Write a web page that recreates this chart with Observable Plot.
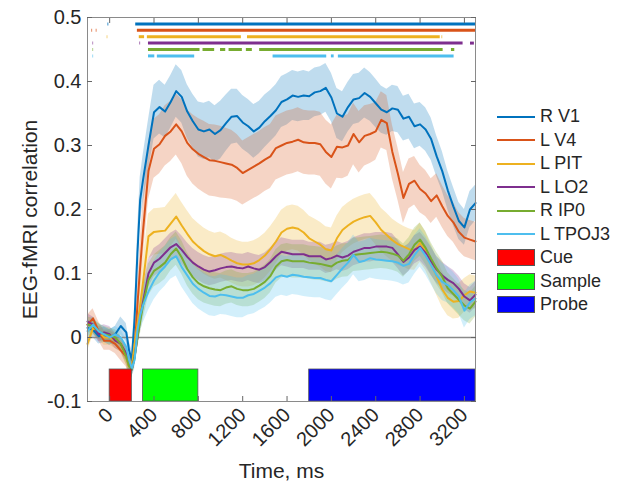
<!DOCTYPE html>
<html><head><meta charset="utf-8">
<script src="https://cdn.jsdelivr.net/npm/d3@7"></script>
<script src="https://cdn.jsdelivr.net/npm/@observablehq/plot@0.6"></script>
<style>
body{margin:0;background:#fff;font-family:"Liberation Sans",Arial,sans-serif;}
#wrap{position:relative;width:624px;height:491px;}
#legend{position:absolute;left:497px;top:105px;font-size:18px;color:#262626;}
.item{display:flex;align-items:center;height:23.5px;}
.sw-line{width:38px;height:0;border-top:2.5px solid;margin-right:5px;}
.sw-rect{width:38px;height:17px;box-sizing:border-box;border:1px solid #555;margin-right:5px;}
</style></head><body><div id="wrap"></div>
<script>
const time = [-200,-150,-100,-50,0,50,100,150,175,200,225,250,275,300,350,400,450,500,550,600,650,700,750,800,850,900,950,1000,1050,1100,1150,1200,1250,1300,1350,1400,1450,1500,1550,1600,1650,1700,1750,1800,1850,1900,1950,2000,2050,2100,2150,2200,2250,2300,2350,2400,2450,2500,2550,2600,2650,2700,2750,2800,2850,2900,2950,3000,3050,3100,3150,3200,3250,3300];

const seriesNames = ["R V1","L V4","L PIT","L LO2","R IP0","L TPOJ3"];
const seriesColors = ["#0072BD","#D95319","#EDB120","#7E2F8E","#77AC30","#4DBEEE"];

const rV1 = [.015,.012,.002,.004,0,.005,.018,.008,-.02,-.035,.03,.13,.215,
.245,.30,.352,.36,.353,.368,.385,.376,.353,.338,.325,.322,.325,.318,.324,.335,.345,.346,.336,.33,.322,.328,.338,.346,.355,.368,.372,.378,.376,.378,.377,.383,.385,.39,.375,.35,.345,.36,.372,.374,.382,.376,.366,.356,.352,.358,.356,.342,.345,.33,.333,.325,.31,.283,.26,.23,.205,.182,.172,.2,.21];
const lV4 = [.02,.03,.01,-.005,-.005,-.01,-.02,-.03,-.045,-.045,-.02,.05,.11,
.165,.26,.295,.302,.315,.322,.333,.322,.304,.294,.287,.282,.277,.276,.274,.272,.27,.265,.257,.262,.267,.272,.278,.283,.296,.3,.304,.306,.309,.305,.304,.304,.302,.29,.282,.298,.297,.3,.318,.305,.315,.318,.322,.34,.335,.29,.256,.218,.24,.245,.232,.225,.213,.222,.205,.19,.18,.165,.156,.153,.15];
const lPIT = [-.01,.015,.01,0,0,-.005,-.01,-.03,-.045,-.045,-.01,.02,.05,
.085,.158,.165,.166,.167,.178,.189,.175,.162,.15,.142,.135,.13,.127,.129,.125,.12,.116,.114,.114,.116,.121,.128,.138,.15,.164,.17,.172,.17,.164,.155,.15,.145,.138,.136,.155,.168,.175,.181,.185,.188,.19,.18,.168,.16,.152,.146,.142,.138,.136,.148,.135,.115,.095,.075,.062,.056,.057,.066,.072,.07];
const lLO2 = [.025,.02,.005,.008,.005,-.005,-.01,-.025,-.04,-.05,-.03,0,.03,
.055,.1,.117,.123,.132,.141,.146,.137,.126,.117,.111,.106,.103,.105,.108,.11,.111,.109,.108,.111,.108,.106,.11,.118,.127,.134,.132,.13,.13,.13,.127,.127,.127,.122,.124,.128,.125,.128,.134,.137,.14,.14,.142,.142,.142,.14,.13,.118,.125,.137,.142,.132,.119,.106,.097,.09,.085,.076,.064,.058,.067];
const rIP0 = [.02,.018,.01,.005,.003,0,-.01,-.03,-.045,-.05,-.03,0,.025,
.05,.09,.104,.11,.117,.13,.139,.125,.107,.094,.085,.08,.077,.075,.074,.078,.08,.076,.074,.074,.076,.081,.087,.096,.111,.119,.121,.119,.119,.119,.117,.116,.115,.113,.111,.117,.12,.121,.129,.13,.131,.132,.133,.134,.133,.131,.128,.12,.13,.145,.153,.14,.123,.108,.095,.077,.068,.059,.05,.045,.056];
const lTPOJ3 = [.01,.02,.01,.005,0,.005,0,-.015,-.035,-.048,-.035,.01,.035,
.05,.072,.089,.102,.111,.122,.127,.11,.097,.084,.076,.07,.065,.064,.067,.066,.064,.062,.062,.066,.068,.073,.078,.085,.094,.097,.095,.098,.097,.095,.094,.093,.093,.09,.088,.098,.108,.117,.129,.118,.12,.124,.122,.121,.12,.119,.117,.112,.115,.129,.14,.128,.113,.097,.087,.082,.074,.064,.042,.055,.061];

const rV1Err = [.012,.012,.012,.012,.012,.012,.014,.014,.015,.015,.02,.03,.035,
.038,.04,.042,.042,.041,.041,.041,.041,.042,.042,.043,.044,.044,.044,.045,.044,.043,.042,.042,.042,.042,.041,.041,.04,.04,.04,.04,.039,.039,.039,.038,.038,.038,.038,.038,.039,.039,.039,.039,.039,.039,.038,.038,.037,.036,.036,.036,.035,.035,.035,.034,.034,.033,.032,.031,.03,.03,.029,.028,.028,.028];
const lV4Err = [.015,.015,.015,.015,.015,.015,.016,.016,.017,.017,.02,.03,.04,
.045,.045,.046,.046,.047,.047,.048,.05,.052,.054,.055,.056,.056,.056,.056,.055,.054,.052,.05,.05,.05,.05,.05,.05,.05,.05,.05,.05,.05,.05,.05,.05,.05,.05,.05,.049,.049,.048,.048,.048,.047,.046,.045,.044,.043,.042,.041,.04,.039,.038,.037,.036,.035,.034,.033,.032,.031,.03,.03,.03,.03];
const lPITErr = [.012,.012,.012,.012,.012,.012,.013,.013,.014,.014,.018,.025,.03,
.033,.035,.036,.036,.036,.036,.036,.036,.036,.036,.036,.036,.036,.036,.036,.036,.035,.035,.035,.035,.035,.035,.035,.035,.035,.035,.035,.035,.035,.035,.035,.035,.035,.035,.035,.035,.035,.035,.035,.035,.035,.035,.035,.034,.034,.033,.033,.032,.032,.031,.031,.03,.03,.029,.028,.028,.027,.027,.026,.026,.026];
const lLO2Err = [.012,.012,.012,.012,.012,.012,.012,.012,.013,.013,.015,.018,.02,
.021,.022,.022,.022,.022,.022,.022,.022,.022,.022,.022,.022,.022,.022,.022,.022,.022,.022,.022,.022,.022,.022,.022,.022,.022,.022,.022,.022,.022,.022,.022,.022,.022,.022,.022,.022,.022,.022,.022,.022,.022,.022,.022,.022,.022,.022,.022,.022,.022,.022,.022,.022,.022,.021,.021,.021,.02,.02,.02,.02,.02];
const rIP0Err = [.012,.012,.012,.012,.012,.012,.012,.012,.013,.013,.015,.02,.022,
.024,.025,.025,.026,.026,.026,.026,.026,.026,.026,.026,.026,.026,.026,.026,.026,.026,.026,.026,.026,.026,.026,.026,.026,.026,.026,.026,.026,.026,.026,.026,.026,.026,.026,.026,.026,.026,.026,.026,.026,.026,.026,.026,.026,.026,.026,.026,.026,.026,.026,.026,.026,.025,.025,.025,.024,.024,.024,.024,.024,.024];
const lTPOJ3Err = [.012,.012,.012,.012,.012,.012,.012,.012,.013,.013,.016,.022,.026,
.028,.03,.03,.031,.031,.031,.031,.031,.031,.031,.031,.031,.031,.031,.031,.031,.031,.031,.031,.031,.031,.031,.031,.031,.031,.031,.031,.031,.031,.031,.031,.031,.031,.031,.031,.031,.031,.031,.031,.031,.031,.031,.031,.031,.031,.031,.031,.03,.03,.03,.03,.03,.03,.029,.029,.028,.028,.027,.027,.027,.027];

// significance segments [start, end] in ms, one list per series
const sigRV1 = [[-15,-8],[235,3300]];
const sigLV4 = [[-160,-154],[-121,-115],[250,3300]];
const sigLPIT = [[-22,-17],[267,315],[340,1188],[1243,2982],[2998,3004]];
const sigLLO2 = [[-150,-145],[273,279],[350,3188],[3255,3290]];
const sigRIP0 = [[-150,-145],[350,815],[842,947],[1000,1047],[1077,1197],[1233,1287],[1353,3008],[3083,3113]];
const sigLTPOJ3 = [[-150,-145],[350,407],[430,767],[1474,1958],[2000,2025],[2063,3107]];

const eventNames = ["Cue","Sample","Probe"];
const eventStart = [0,300,1800];
const eventEnd = [200,800,3300];
const eventColors = ["#FF0000","#00FF00","#0000FF"];

const xTicks = [0,400,800,1200,1600,2000,2400,2800,3200];
const yTicks = [-0.1,0,0.1,0.2,0.3,0.4,0.5];

const values = [rV1,lV4,lPIT,lLO2,rIP0,lTPOJ3];
const errs = [rV1Err,lV4Err,lPITErr,lLO2Err,rIP0Err,lTPOJ3Err];
const sigs = [sigRV1,sigLV4,sigLPIT,sigLLO2,sigRIP0,sigLTPOJ3];

const tables = values.map((vals, i) => time.map((t, j) => ({t, v: vals[j], lo: vals[j] - errs[i][j], hi: vals[j] + errs[i][j]})));
const events = eventNames.map((name, i) => ({name, start: eventStart[i], end: eventEnd[i]}));

const marks = [];
tables.forEach((tab, i) => marks.push(Plot.areaY(tab, {x: "t", y1: "lo", y2: "hi", fill: seriesColors[i], fillOpacity: 0.25, curve: "linear"})));
marks.push(Plot.ruleY([0], {stroke: "#8a8a8a", strokeWidth: 1.5}));
tables.forEach((tab, i) => marks.push(Plot.lineY(tab, {x: "t", y: "v", stroke: seriesColors[i], strokeWidth: 2})));
events.forEach((e, i) => marks.push(Plot.rect([e], {x1: "start", x2: "end", y1: () => -0.1, y2: () => -0.05, fill: eventColors[i], stroke: "#555", strokeWidth: 0.8})));
sigs.forEach((segs, i) => marks.push(Plot.ruleY(segs, {x1: d => d[0], x2: d => d[1], y: () => 0.49 - 0.01 * i, stroke: seriesColors[i], strokeWidth: 3})));

marks.push(Plot.frame({stroke: "#8a8a8a"}));
// inward ticks
marks.push(Plot.axisX({anchor: "bottom", ticks: xTicks, tickSize: 5, dy: -5, text: null, label: null, stroke: "#666"}));
marks.push(Plot.axisX({anchor: "top", ticks: xTicks, tickSize: 5, dy: 5, text: null, label: null, stroke: "#666"}));
marks.push(Plot.axisY({anchor: "left", ticks: yTicks, tickSize: 5, dx: 5, text: null, label: null, stroke: "#666"}));
marks.push(Plot.axisY({anchor: "right", ticks: yTicks, tickSize: 5, dx: -5, text: null, label: null, stroke: "#666"}));
// tick labels
marks.push(Plot.axisX({anchor: "bottom", ticks: xTicks, tickSize: 0, tickPadding: 10, tickRotate: -45, fontSize: 20, fill: "#262626", label: null, tickFormat: d => String(d)}));
marks.push(Plot.axisY({anchor: "left", ticks: yTicks, tickSize: 0, tickPadding: 6, fontSize: 20, fill: "#262626", label: null, tickFormat: d => d === 0 ? "0" : String(d)}));
// axis titles
marks.push(Plot.text(["Time, ms"], {frameAnchor: "bottom", dy: 76, fontSize: 21, fill: "#262626", textAnchor: "middle"}));
marks.push(Plot.text(["EEG-fMRI correlation"], {frameAnchor: "left", dx: -57, dy: 10, rotate: -90, fontSize: 21, fill: "#262626", textAnchor: "middle"}));

const chart = Plot.plot({
  width: 624, height: 491,
  marginLeft: 87, marginRight: 149, marginTop: 17, marginBottom: 90,
  x: {domain: [-200, 3300]},
  y: {domain: [-0.1, 0.5]},
  style: {fontFamily: "'Liberation Sans', Arial, sans-serif", background: "white", overflow: "visible"},
  marks
});

const wrap = document.getElementById("wrap");
wrap.appendChild(chart);

const legend = document.createElement("div");
legend.id = "legend";
seriesNames.forEach((n, i) => {
  const it = document.createElement("div"); it.className = "item";
  const sw = document.createElement("div"); sw.className = "sw-line"; sw.style.borderTopColor = seriesColors[i];
  const tx = document.createElement("span"); tx.textContent = n;
  it.appendChild(sw); it.appendChild(tx); legend.appendChild(it);
});
eventNames.forEach((n, i) => {
  const it = document.createElement("div"); it.className = "item";
  const sw = document.createElement("div"); sw.className = "sw-rect"; sw.style.background = eventColors[i];
  const tx = document.createElement("span"); tx.textContent = n;
  it.appendChild(sw); it.appendChild(tx); legend.appendChild(it);
});
wrap.appendChild(legend);
</script>
</body></html>
